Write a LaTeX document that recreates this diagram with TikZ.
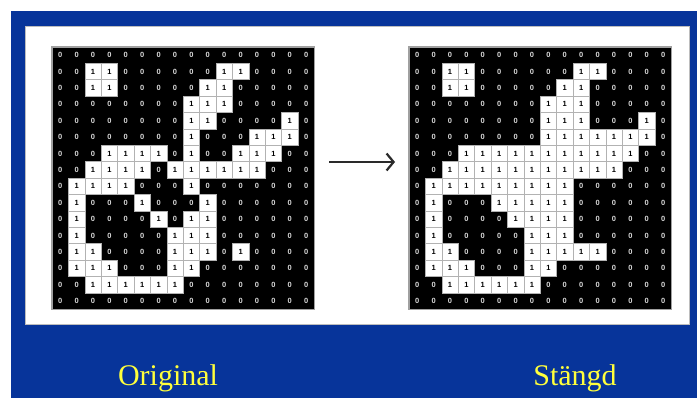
\documentclass[tikz,border=0pt]{standalone}
\usepackage{fontspec}
\setmainfont{Liberation Serif}
\setsansfont{Liberation Sans}
\usetikzlibrary{arrows.meta}
\definecolor{navy}{HTML}{07349A}
\definecolor{lemon}{HTML}{FFFF3C}
\definecolor{rim}{HTML}{A0A0A0}
\definecolor{ink}{HTML}{2A2A2A}
\newcommand\cw{16.4}
% rows of the two images: row / columns that hold a 1
\newcommand\origrows{0/{-1}, 1/{2,3,10,11}, 2/{2,3,9,10}, 3/{8,9,10},
  4/{8,9,14}, 5/{8,12,13,14}, 6/{3,4,5,6,8,11,12,13},
  7/{2,3,4,5,7,8,9,10,11,12}, 8/{1,2,3,4,8}, 9/{1,5,9}, 10/{1,6,8,9},
  11/{1,7,8,9}, 12/{1,2,7,8,9,11}, 13/{1,2,3,7,8}, 14/{2,...,7}, 15/{-1}}
\newcommand\closrows{0/{-1}, 1/{2,3,10,11}, 2/{2,3,9,10}, 3/{8,9,10},
  4/{8,9,10,14}, 5/{8,...,14}, 6/{3,...,13}, 7/{2,...,12}, 8/{1,...,9},
  9/{1,5,6,7,8,9}, 10/{1,6,7,8,9}, 11/{1,7,8,9}, 12/{1,2,7,8,9,10,11},
  13/{1,2,3,7,8}, 14/{2,...,7}, 15/{-1}}

\begin{document}
\begin{tikzpicture}[
  x=1pt, y=-1pt,
  board/.style={fill=black, draw=rim, line width=1.2pt,
                minimum size=262.4pt, inner sep=0pt},
  bit0/.style={text=white!85!black, font=\sffamily\bfseries\fontsize{7.5}{7.5}\selectfont,
               inner sep=0pt},
  bit1/.style={fill=white, draw=gray!60, line width=0.6pt, text=black,
               font=\sffamily\bfseries\fontsize{7.5}{7.5}\selectfont,
               minimum width=\cw pt, minimum height=\cw pt, inner sep=0pt},
  arr/.style={-{Straight Barb[length=7pt, width=17pt]}, line width=2.2pt, ink},
  caption/.style={font=\fontsize{30}{30}\selectfont, text=lemon, anchor=base},
]
\useasboundingbox (0,0) rectangle (697,398);
\fill[white] (0,0) rectangle (697,398);

% ─── frame ──────────────────────────────────────────────────────────────────
\fill[navy] (11,11) rectangle (697,398);
\draw[fill=white, draw=rim!70, line width=1.6pt] (25.5,26.5) rectangle (689.5,324.5);

% ─── original ───────────────────────────────────────────────────────────────
\node[board] (orig) at ({52+8*\cw}, {47+8*\cw}) {};
\foreach \r/\ones in \origrows {
  \foreach \c in {0,...,15} {
    \gdef\bitval{0}
    \foreach \o in \ones {\ifnum\o=\c\relax\gdef\bitval{1}\fi}
    \node[bit\bitval] (o-\r-\c) at ({52+\cw*(\c+0.5)}, {47+\cw*(\r+0.5)}) {\bitval};
  }
}

% ─── closed ─────────────────────────────────────────────────────────────────
\node[board] (clos) at ({409+8*\cw}, {47+8*\cw}) {};
\foreach \r/\ones in \closrows {
  \foreach \c in {0,...,15} {
    \gdef\bitval{0}
    \foreach \o in \ones {\ifnum\o=\c\relax\gdef\bitval{1}\fi}
    \node[bit\bitval] (s-\r-\c) at ({409+\cw*(\c+0.5)}, {47+\cw*(\r+0.5)}) {\bitval};
  }
}

% ─── arrow + captions ───────────────────────────────────────────────────────
\coordinate (arrfrom) at (329,162);
\coordinate (arrto) at (395,162);
\draw[arr] (arrfrom) -- (arrto);

\node[caption] (lblorig) at (168,385) {Original};
\node[caption] (lblclos) at (575,385) {Stängd};

\end{tikzpicture}
\end{document}
